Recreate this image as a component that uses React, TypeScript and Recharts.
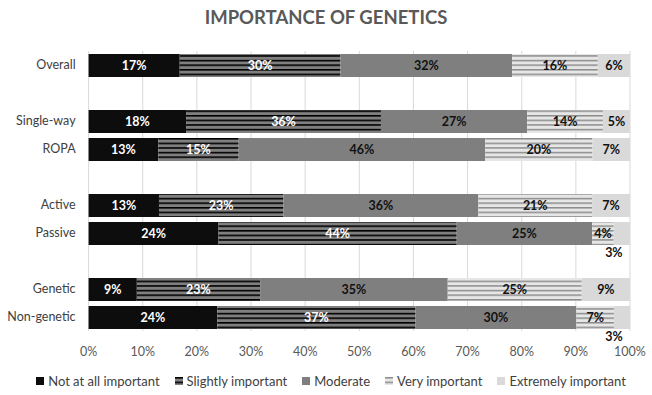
import React from "react";
import { BarChart, Bar, XAxis, YAxis, CartesianGrid, Legend, LabelList } from "recharts";

// Row labels; empty strings are spacer rows between groups
const categories = ["Overall", "", "Single-way", "ROPA", "", "Active", "Passive", "", "Genetic", "Non-genetic"];

// Percent of respondents per importance level
const notAtAll = [17, null, 18, 13, null, 13, 24, null, 9, 24];
const slightly = [30, null, 36, 15, null, 23, 44, null, 23, 37];
const moderate = [32, null, 27, 46, null, 36, 25, null, 35, 30];
const veryImportant = [16, null, 14, 20, null, 21, 4, null, 25, 7];
const extremely = [6, null, 5, 7, null, 7, 3, null, 9, 3];

const seriesNames = ["Not at all important", "Slightly important", "Moderate", "Very important", "Extremely important"];
const xTicks = [0, 0.1, 0.2, 0.3, 0.4, 0.5, 0.6, 0.7, 0.8, 0.9, 1];

const FONT = "Lato, 'Open Sans', sans-serif";

const data = categories.map((label, i) => ({
  id: `row${i}`,
  label,
  s0: notAtAll[i],
  s1: slightly[i],
  s2: moderate[i],
  s3: veryImportant[i],
  s4: extremely[i],
}));

const fills = ["#0d0d0d", "url(#stripeDark)", "#7f7f7f", "url(#stripeLight)", "#d9d9d9"];
const labelColors = ["#ffffff", "#ffffff", "#111111", "#111111", "#111111"];

const makeLabel = (idx: number) => (props: any) => {
  const { x, y, width, height, value } = props;
  if (value == null || value === 0) return null;
  // very thin end segments carry their label just below the bar
  const small = idx === 4 && value <= 3;
  const cx = small ? x + width / 2 - 8 : x + width / 2;
  const cy = small ? y + height + 7.5 : y + height / 2;
  return (
    <text
      x={cx}
      y={cy}
      textAnchor="middle"
      dominantBaseline="central"
      fontFamily={FONT}
      fontWeight={700}
      fontSize={12.5}
      fill={labelColors[idx]}
    >
      {`${value}%`}
    </text>
  );
};

const LegendContent = () => (
  <div
    style={{
      display: "flex",
      justifyContent: "center",
      alignItems: "center",
      gap: 15,
      paddingLeft: 32,
      boxSizing: "border-box",
      fontFamily: FONT,
      fontSize: 13,
      color: "#404040",
      height: 24,
    }}
  >
    {seriesNames.map((name, i) => (
      <div key={name} style={{ display: "flex", alignItems: "center", gap: 4 }}>
        <svg width={8} height={8}>
          <rect width={8} height={8} fill={fills[i]} />
        </svg>
        <span>{name}</span>
      </div>
    ))}
  </div>
);

export default function App() {
  return (
    <div style={{ position: "absolute", left: 0, top: 0, width: 652, height: 395, background: "#fff" }}>
      <div
        style={{
          position: "absolute",
          top: 6,
          left: 0,
          width: 652,
          textAlign: "center",
          fontFamily: FONT,
          fontWeight: 700,
          fontSize: 18.5,
          color: "#595959",
        }}
      >
        IMPORTANCE OF GENETICS
      </div>
      <BarChart
        width={652}
        height={395}
        data={data}
        layout="vertical"
        stackOffset="expand"
        margin={{ top: 51, right: 22, bottom: 2, left: 0 }}
      >
        <defs>
          <pattern id="stripeDark" width={6} height={4.6} patternUnits="userSpaceOnUse">
            <rect width={6} height={4.6} fill="#7f7f7f" />
            <rect y={0} width={6} height={1.6} fill="#000000" />
          </pattern>
          <pattern id="stripeLight" width={6} height={4.6} patternUnits="userSpaceOnUse">
            <rect width={6} height={4.6} fill="#e6e6e6" />
            <rect y={0} width={6} height={1.5} fill="#8c8c8c" />
          </pattern>
        </defs>
        <CartesianGrid horizontal={false} stroke="#d9d9d9" />
        <XAxis
          type="number"
          domain={[0, 1]}
          ticks={xTicks}
          tickFormatter={(v: number) => `${Math.round(v * 100)}%`}
          axisLine={false}
          tickLine={false}
          tickSize={6}
          tickMargin={10}
          height={38}
          tick={{ fontFamily: FONT, fontSize: 12.5, fill: "#595959" }}
          interval={0}
        />
        <YAxis
          type="category"
          dataKey="id"
          width={88.6}
          axisLine={false}
          tickLine={false}
          tickSize={0}
          tickMargin={13}
          interval={0}
          tickFormatter={(v: string) => data.find((d) => d.id === v)?.label ?? ""}
          tick={{ fontFamily: FONT, fontSize: 12.5, fill: "#404040" }}
        />
        <Legend verticalAlign="bottom" height={24} content={<LegendContent />} />
        {seriesNames.map((name, i) => (
          <Bar
            key={name}
            dataKey={`s${i}`}
            name={name}
            stackId="a"
            fill={fills[i]}
            barSize={23}
            isAnimationActive={false}
          >
            <LabelList dataKey={`s${i}`} content={makeLabel(i)} />
          </Bar>
        ))}
      </BarChart>
    </div>
  );
}
